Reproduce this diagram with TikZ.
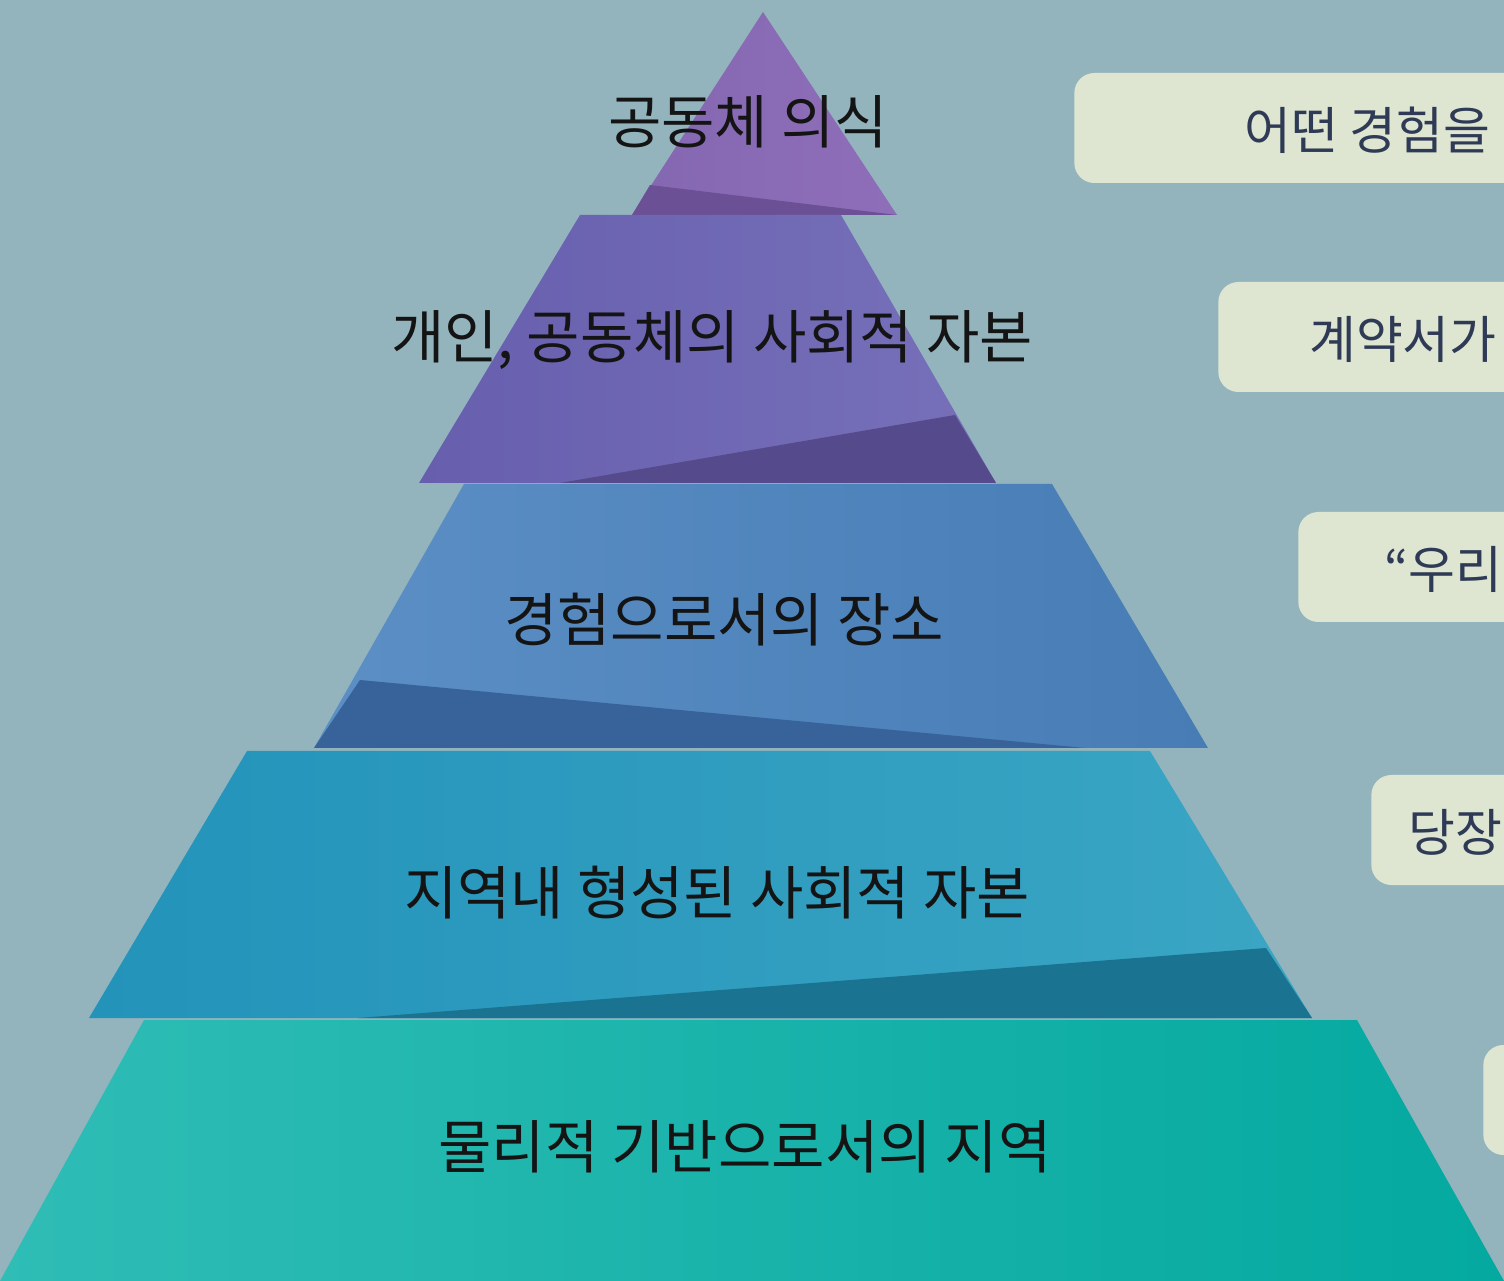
\documentclass[tikz,border=0pt]{standalone}
\usepackage{fontspec}
\newfontfamily\krfont{Noto Sans CJK KR}
\definecolor{bgcol}{HTML}{93B4BD}
\definecolor{notefill}{HTML}{DEE6D1}
\definecolor{notetextcol}{HTML}{2F3B56}
\definecolor{pa}{HTML}{8467B1}
\definecolor{pb}{HTML}{8F6EB9}
\definecolor{pd}{HTML}{6C5096}
\definecolor{qa}{HTML}{675FAE}
\definecolor{qb}{HTML}{7770B9}
\definecolor{qd}{HTML}{554A8B}
\definecolor{ra}{HTML}{5B8FC5}
\definecolor{rb}{HTML}{477CB5}
\definecolor{rd}{HTML}{37639A}
\definecolor{sa}{HTML}{2393BA}
\definecolor{sb}{HTML}{3BA6C4}
\definecolor{sd}{HTML}{1A7390}
\definecolor{ta}{HTML}{2FBDB6}
\definecolor{tb}{HTML}{04A99F}
\begin{document}
\begin{tikzpicture}[x=0.2mm, y=-0.2mm,
  layer/.style={font=\krfont\fontsize{33}{40}\selectfont, text=black!92},
  notebox/.style={fill=notefill, rounded corners=4mm, anchor=west,
    minimum width=100mm, minimum height=22mm},
  notetext/.style={font=\krfont\fontsize{29}{35}\selectfont, text=notetextcol, anchor=west}]
  \useasboundingbox (0,0) rectangle (1504,1281);
  \clip (0,0) rectangle (1504,1281);
  \fill[bgcol] (0,0) rectangle (1504,1281);
  % pyramid, top to bottom
  \shade[left color=pa, right color=pb] (763,12) -- (897,215) -- (632,215) -- cycle;
  \fill[pd] (650,185) -- (897,215) -- (632,215) -- cycle;
  \shade[left color=qa, right color=qb] (580,215) -- (841,215) -- (996,483) -- (419,483) -- cycle;
  \fill[qd] (560,483) -- (955,415) -- (996,483) -- cycle;
  \shade[left color=ra, right color=rb] (464,484) -- (1052,484) -- (1208,748) -- (314,748) -- cycle;
  \fill[rd] (360,680) -- (1085,748) -- (314,748) -- cycle;
  \shade[left color=sa, right color=sb] (247,751) -- (1150,751) -- (1312,1018) -- (89,1018) -- cycle;
  \fill[sd] (358,1018) -- (1266,948) -- (1312,1018) -- cycle;
  \shade[left color=ta, right color=tb] (144,1020) -- (1357,1020) -- (1504,1281) -- (0,1281) -- cycle;
  % labels
  \node[layer] (l1) at (748,122) {공동체 의식};
  \node[layer] (l2) at (712,340) {개인, 공동체의 사회적 자본};
  \node[layer] (l3) at (724,620) {경험으로서의 장소};
  \node[layer] (l4) at (717,893) {지역내 형성된 사회적 자본};
  \node[layer] (l5) at (745,1147) {물리적 기반으로서의 지역};
  % notes on the right
  \node[notebox] (n1) at (1074,128) {};
  \node[notebox] (n2) at (1218,337) {};
  \node[notebox] (n3) at (1298,567) {};
  \node[notebox] (n4) at (1371,830) {};
  \node[notebox] (n5) at (1483,1100) {};
  \node[notetext] (t1) at (1238,130) {어떤 경험을};
  \node[notetext] (t2) at (1303,339) {계약서가};
  \node[notetext] (t3) at (1378,569) {“우리};
  \node[notetext] (t4) at (1402,832) {당장};
\end{tikzpicture}
\end{document}
